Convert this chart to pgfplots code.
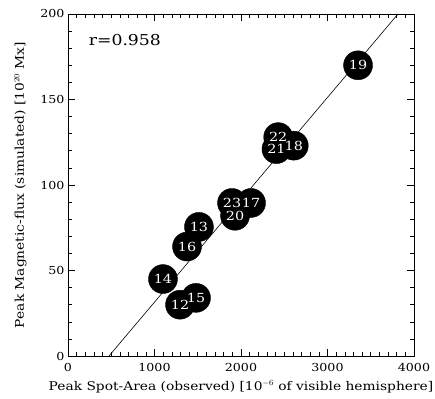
\documentclass[border=0pt]{standalone}
\usepackage{pgfplots}
\pgfplotsset{compat=1.18}
\usepackage{fontspec}
\setmainfont{DejaVu Serif}
\newfontfamily\wide[FakeStretch=1.15]{DejaVu Serif}
\begin{document}
\begin{tikzpicture}[x=1pt,y=1pt]
\path[use as bounding box] (-68,-42) rectangle (367,356);
\begin{axis}[
  at={(0,0)}, anchor=south west,
  scale only axis, width=346pt, height=342pt,
  xmin=0, xmax=4000, ymin=0, ymax=200,
  xtick={0,1000,2000,3000,4000},
  ytick={0,50,100,150,200},
  minor x tick num=9, minor y tick num=4,
  tick align=inside,
  major tick length=7pt, minor tick length=4pt,
  axis line style={line width=0.8pt},
  every tick/.style={line width=0.6pt, black},
  /pgf/number format/assume math mode=true,
  /pgf/number format/1000 sep={},
  tick label style={font=\wide\fontsize{11}{12}\selectfont},
  xticklabel style={yshift=-4pt},
  xlabel={Peak Spot-Area (observed) [10$^{-6}$ of visible hemisphere]},
  ylabel={Peak Magnetic-flux (simulated) [10$^{20}$ Mx]},
  label style={font=\wide\fontsize{12}{13}\selectfont},
  xlabel style={yshift=-2pt},
  ylabel style={yshift=7pt},
  clip=true,
]
\addplot[black, line width=0.6pt] coordinates {(474,0) (3815,200)};
\addplot[only marks, mark=*, mark size=14.5pt, mark options={fill=black, draw=black},
  clip mode=individual]
  table {
  x y
  1295 30
  1480 34
  1098 45
  1376 64
  1514 75.5
  1931 82
  1896 89.5
  2116 89.5
  2610 123
  2410 121
  2430 128
  3353 170
  };
\addplot[only marks, mark=none,
  nodes near coords, point meta=explicit symbolic,
  every node near coord/.style={anchor=center, text=white, font=\wide\fontsize{12.5}{12.5}\selectfont, inner sep=0pt},
  clip mode=individual]
  table[meta=label] {
  x y label
  1295 30 12
  1480 34 15
  1098 45 14
  1376 64 16
  1514 75.5 13
  1931 82 20
  1896 89.5 23
  2116 89.5 17
  2610 123 18
  2410 121 21
  2430 128 22
  3353 170 19
  };
\node[anchor=west, font=\wide\fontsize{15}{15}\selectfont] at (axis cs:200,185) {r=0.958};
\end{axis}
\end{tikzpicture}
\end{document}
